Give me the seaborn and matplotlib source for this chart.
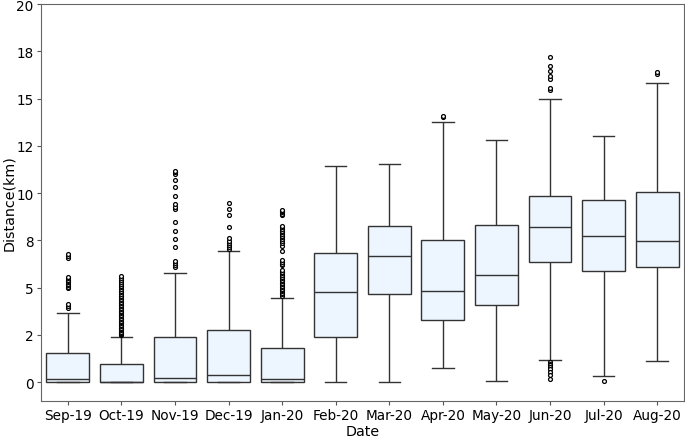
import numpy as np
import pandas as pd
import matplotlib
matplotlib.use("Agg")
import matplotlib.pyplot as plt
import seaborn as sns
from matplotlib.ticker import MultipleLocator, FormatStrFormatter

# Box statistics (km)
months = ["Sep-19", "Oct-19", "Nov-19", "Dec-19", "Jan-20", "Feb-20",
          "Mar-20", "Apr-20", "May-20", "Jun-20", "Jul-20", "Aug-20"]
q1 = [0.0, 0.0, 0.0, 0.0, 0.0, 2.39, 4.67, 3.31, 4.10, 6.36, 5.87, 6.08]
median = [0.17, 0.03, 0.21, 0.39, 0.17, 4.76, 6.69, 4.84, 5.69, 8.22, 7.75, 7.47]
q3 = [1.55, 0.98, 2.41, 2.78, 1.80, 6.83, 8.28, 7.54, 8.31, 9.83, 9.65, 10.07]
whisker_lo = [0.0, 0.0, 0.0, 0.0, 0.0, 0.03, 0.03, 0.74, 0.08, 1.16, 0.30, 1.11]
whisker_hi = [3.63, 2.38, 5.78, 6.94, 4.46, 11.42, 11.55, 13.74, 12.82, 15.0, 13.03, 15.8]

outliers = {
    "Sep-19": [3.92, 4.0, 4.15, 4.98, 5.05, 5.12, 5.2, 5.28, 5.35, 5.42, 5.5, 5.57,
               6.58, 6.68, 6.8],
    "Oct-19": [2.47, 2.53, 2.61, 2.66, 2.74, 2.8, 2.87, 2.95, 3.01, 3.1, 3.17, 3.24,
               3.33, 3.4, 3.47, 3.55, 3.63, 3.71, 3.78, 3.86, 3.93, 4.02, 4.09, 4.17,
               4.26, 4.33, 4.41, 4.5, 4.58, 4.66, 4.75, 4.83, 4.92, 5.01, 5.1, 5.2,
               5.31, 5.42, 5.52, 5.6],
    "Nov-19": [6.1, 6.2, 6.3, 6.42, 7.17, 7.57, 8.0, 8.46, 9.18, 9.28, 9.4, 9.86,
               10.3, 10.7, 11.0, 11.1, 11.18],
    "Dec-19": [7.06, 7.15, 7.25, 7.35, 7.45, 7.6, 8.19, 8.84, 9.16, 9.46],
    "Jan-20": [4.58, 4.65, 4.73, 4.8, 4.88, 4.95, 5.03, 5.1, 5.18, 5.26, 5.33, 5.41,
               5.5, 5.58, 5.66, 5.75, 5.83, 5.92, 6.18, 6.27, 6.36, 6.46, 6.96, 7.22,
               7.35, 7.48, 7.58, 7.66, 7.75, 7.83, 7.92, 8.0, 8.1, 8.2, 8.28, 8.82,
               8.9, 8.98, 9.05, 9.1],
    "Feb-20": [],
    "Mar-20": [],
    "Apr-20": [14.02, 14.08],
    "May-20": [],
    "Jun-20": [15.45, 15.55, 16.03, 16.2, 16.47, 16.73, 17.18,
               1.04, 0.95, 0.88, 0.8, 0.7, 0.55, 0.35, 0.15],
    "Jul-20": [0.08],
    "Aug-20": [16.3, 16.4],
}

# Build a sample per month that reproduces those box statistics
k = 100
rows = []
for i, m in enumerate(months):
    vals = ([whisker_lo[i]] + [q1[i]] * k + [median[i]] * k + [q3[i]] * k
            + [whisker_hi[i]] + outliers[m])
    rows += [(m, v) for v in vals]
df = pd.DataFrame(rows, columns=["Date", "Distance"])

fill = "#EDF5FE"
line = "#333333"

fig = plt.figure(figsize=(6.85, 4.39), dpi=100)
ax = fig.add_axes([0.060, 0.0843, 0.9385, 0.9043])

sns.boxplot(data=df, x="Date", y="Distance", order=months, ax=ax,
            color=fill, saturation=1, linecolor=line, linewidth=1, width=0.8,
            flierprops=dict(marker="o", markersize=2.8, markerfacecolor="white",
                            markeredgecolor="black", markeredgewidth=0.9))

ax.set_ylim(-1, 20)
ax.yaxis.set_major_locator(MultipleLocator(2.5))
ax.yaxis.set_major_formatter(FormatStrFormatter("%.0f"))
ax.set_xlabel("Date", fontsize=10.3, labelpad=1)
ax.set_ylabel("Distance(km)", fontsize=10.3, labelpad=0)
ax.tick_params(labelsize=9.8, color="#555555", length=3.2, pad=2.2)
for s in ax.spines.values():
    s.set_color("#666666")

fig.savefig("out.png", dpi=100)
